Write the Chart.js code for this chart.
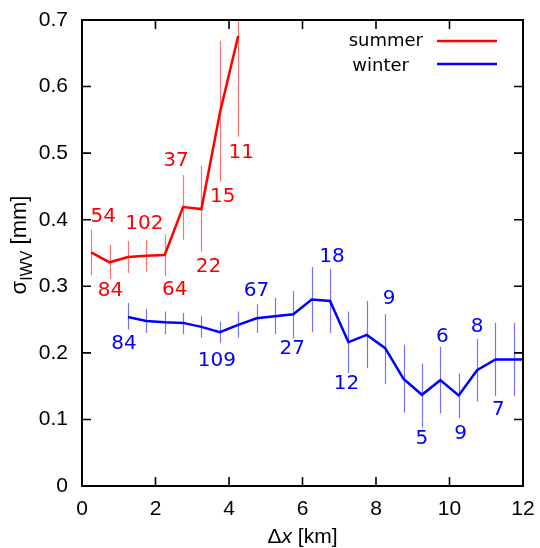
<!DOCTYPE html>
<html>
<head>
<meta charset="utf-8">
<script src="https://cdn.jsdelivr.net/npm/chart.js@4/dist/chart.umd.min.js"></script>
<style>
  html, body { margin: 0; padding: 0; background: #fff; }
</style>
</head>
<body>
<canvas id="chart" width="540" height="548"></canvas>
<script>
// bin centres [km], sigma of IWV differences [mm], error range and pair counts
const summerDx = [0.25, 0.75, 1.25, 1.75, 2.25, 2.75, 3.25, 3.75, 4.25];
const summerSigma = [0.351, 0.336, 0.344, 0.346, 0.347, 0.419, 0.416, 0.560, 0.676];
const summerLo = [0.317, 0.311, 0.320, 0.322, 0.315, 0.370, 0.352, 0.457, 0.525];
const summerHi = [0.385, 0.362, 0.368, 0.370, 0.378, 0.467, 0.481, 0.669, 0.830];
const summerCounts = [54, 84, null, 102, 64, 37, 22, 15, 11];

const winterDx = [1.25, 1.75, 2.25, 2.75, 3.25, 3.75, 4.25, 4.75, 5.25, 5.75, 6.25,
  6.75, 7.25, 7.75, 8.25, 8.75, 9.25, 9.75, 10.25, 10.75, 11.25, 11.75, 12.25];
const winterSigma = [0.254, 0.248, 0.246, 0.245, 0.239, 0.231, 0.242, 0.252, 0.255, 0.258, 0.280,
  0.278, 0.216, 0.227, 0.207, 0.161, 0.137, 0.159, 0.136, 0.174, 0.190, 0.190, 0.190];
const winterLo = [0.235, 0.230, 0.228, 0.228, 0.223, 0.215, 0.223, 0.230, 0.228, 0.222, 0.231,
  0.230, 0.170, 0.177, 0.153, 0.110, 0.088, 0.109, 0.102, 0.127, 0.135, 0.135, null];
const winterHi = [0.275, 0.266, 0.262, 0.260, 0.255, 0.247, 0.262, 0.273, 0.283, 0.293, 0.329,
  0.326, 0.262, 0.278, 0.258, 0.212, 0.184, 0.209, 0.169, 0.221, 0.245, 0.245, null];
const winterCounts = [84, null, null, null, null, 109, null, 67, null, 27, null,
  18, 12, null, 9, null, 5, 6, 9, 8, 7, null, null];

const xTicks = [0, 2, 4, 6, 8, 10, 12];
const yTicks = [0, 0.1, 0.2, 0.3, 0.4, 0.5, 0.6, 0.7];

// where each count sits relative to its point, in pixels
const summerLabelShift = [[12, -36], [1, 28], null, [-2, -32], [10, 35], [-7, -46], [7, 58], [3, 84], [3, 117]];
const winterLabelShift = [[-4, 27], null, null, null, null, [-3, 29], null, [0, -27], null, [-1, 35], null,
  [2, -44], [-2, 42], null, [4, -49], null, [0, 44], [2, -43], [2, 38], [0, -43], [3, 50], null, null];

const RED = '#ff0000';
const BLUE = '#0000ff';

const toPoints = (xs, ys) => xs.map((x, i) => ({ x, y: ys[i] }));

const series = [
  { name: 'summer', color: RED, bar: 'rgba(255,0,0,0.55)', dx: summerDx, lo: summerLo, hi: summerHi,
    y: summerSigma, counts: summerCounts, shift: summerLabelShift },
  { name: 'winter', color: BLUE, bar: 'rgba(0,0,255,0.55)', dx: winterDx, lo: winterLo, hi: winterHi,
    y: winterSigma, counts: winterCounts, shift: winterLabelShift }
];

const gnuplotLook = {
  id: 'gnuplotLook',
  beforeDatasetsDraw(chart) {
    const { ctx, chartArea: a, scales: { x, y } } = chart;
    ctx.save();
    ctx.beginPath();
    ctx.rect(a.left, a.top, a.right - a.left, a.bottom - a.top);
    ctx.clip();
    ctx.lineWidth = 1.2;
    series.forEach(s => {
      ctx.strokeStyle = s.bar;
      s.dx.forEach((d, i) => {
        if (s.lo[i] == null) return;
        const px = Math.round(x.getPixelForValue(d)) + 0.5;
        ctx.beginPath();
        ctx.moveTo(px, y.getPixelForValue(s.lo[i]));
        ctx.lineTo(px, y.getPixelForValue(s.hi[i]));
        ctx.stroke();
      });
    });
    ctx.restore();
  },
  afterDraw(chart) {
    const { ctx, chartArea: a, scales: { x, y } } = chart;
    ctx.save();

    // frame with inward ticks
    ctx.strokeStyle = '#000';
    ctx.lineWidth = 2;
    ctx.strokeRect(a.left, a.top, a.right - a.left, a.bottom - a.top);
    ctx.lineWidth = 1.6;
    ctx.beginPath();
    xTicks.forEach(t => {
      const px = x.getPixelForValue(t);
      ctx.moveTo(px, a.bottom); ctx.lineTo(px, a.bottom - 9);
      ctx.moveTo(px, a.top); ctx.lineTo(px, a.top + 9);
    });
    yTicks.forEach(t => {
      const py = y.getPixelForValue(t);
      ctx.moveTo(a.left, py); ctx.lineTo(a.left + 9, py);
      ctx.moveTo(a.right, py); ctx.lineTo(a.right - 9, py);
    });
    ctx.stroke();

    // pair counts next to the points
    ctx.font = '20px "DejaVu Sans"';
    ctx.textAlign = 'center';
    ctx.textBaseline = 'middle';
    series.forEach(s => {
      ctx.fillStyle = s.color;
      s.counts.forEach((n, i) => {
        if (n == null) return;
        const [ox, oy] = s.shift[i];
        ctx.fillText(String(n), x.getPixelForValue(s.dx[i]) + ox, y.getPixelForValue(s.y[i]) + oy);
      });
    });

    // key
    ctx.font = '18px "DejaVu Sans"';
    ctx.textAlign = 'right';
    ctx.textBaseline = 'alphabetic';
    ctx.lineWidth = 2.5;
    const keyRows = [[423, 46, 41], [409, 71, 64]];
    series.forEach((s, i) => {
      const [tx, ty, ly] = keyRows[i];
      ctx.fillStyle = '#000';
      ctx.fillText(s.name, tx, ty);
      ctx.strokeStyle = s.color;
      ctx.beginPath();
      ctx.moveTo(437, ly); ctx.lineTo(497, ly);
      ctx.stroke();
    });

    // x axis title: Δx [km] with italic x
    ctx.fillStyle = '#000';
    ctx.textAlign = 'left';
    const up = '21px "Liberation Sans"';
    const it = 'italic 21px "Liberation Sans"';
    const parts = [['Δ', up], ['x', it], [' [km]', up]];
    let w = 0;
    parts.forEach(([t, f]) => { ctx.font = f; w += ctx.measureText(t).width; });
    let cx = (a.left + a.right) / 2 - w / 2;
    parts.forEach(([t, f]) => { ctx.font = f; ctx.fillText(t, cx, 543); cx += ctx.measureText(t).width; });

    // y axis title: σ_IWV [mm], rotated
    ctx.translate(26, 245);
    ctx.rotate(-Math.PI / 2);
    const big = '22px "Liberation Sans"';
    const sub = '16px "Liberation Sans"';
    const yParts = [['σ', big, 0], ['IWV', sub, 6], [' [mm]', big, 0]];
    w = 0;
    yParts.forEach(([t, f]) => { ctx.font = f; w += ctx.measureText(t).width; });
    cx = -w / 2;
    yParts.forEach(([t, f, dy]) => { ctx.font = f; ctx.fillText(t, cx, dy); cx += ctx.measureText(t).width; });

    ctx.restore();
  }
};

new Chart(document.getElementById('chart'), {
  type: 'line',
  data: {
    datasets: series.map(s => ({
      label: s.name,
      data: toPoints(s.dx, s.y),
      borderColor: s.color,
      borderWidth: 2.5,
      pointRadius: 0,
      tension: 0,
      fill: false,
      clip: 0
    }))
  },
  options: {
    responsive: false,
    animation: false,
    layout: { padding: { left: 0, right: 17, top: 20, bottom: 0 } },
    plugins: { legend: { display: false }, tooltip: { enabled: false } },
    scales: {
      x: {
        type: 'linear',
        min: 0,
        max: 12,
        afterFit: s => { s.height = 62; s.paddingLeft = 0; s.paddingRight = 0; },
        afterBuildTicks: s => { s.ticks = xTicks.map(v => ({ value: v })); },
        grid: { display: false, drawTicks: false },
        border: { display: false },
        ticks: { color: '#000', padding: 11, font: { family: 'Liberation Sans', size: 21 } }
      },
      y: {
        min: 0,
        max: 0.7,
        afterFit: s => { s.width = 82; s.paddingTop = 0; s.paddingBottom = 0; },
        afterBuildTicks: s => { s.ticks = yTicks.map(v => ({ value: v })); },
        grid: { display: false, drawTicks: false },
        border: { display: false },
        ticks: { color: '#000', padding: 14, font: { family: 'Liberation Sans', size: 21 },
          callback: v => String(Math.round(v * 10) / 10) }
      }
    }
  },
  plugins: [gnuplotLook]
});
</script>
</body>
</html>
